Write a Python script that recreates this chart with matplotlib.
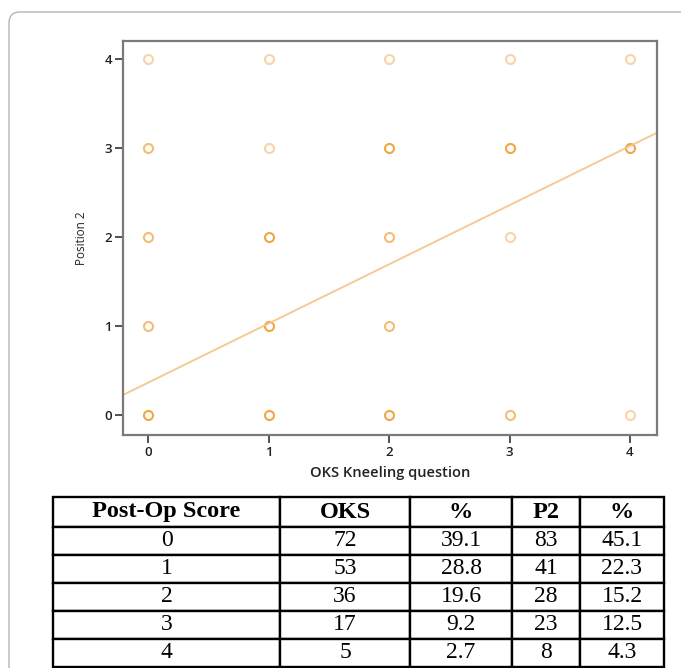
import matplotlib
matplotlib.use("Agg")
import matplotlib.pyplot as plt
from matplotlib.patches import FancyBboxPatch

# scatter points (OKS kneeling score, Position 2 score) and a rough darkness level per point
pts_x = [0, 1, 2, 3, 4,  0, 1, 2, 3, 4,  0, 1, 2, 3,  0, 1, 2,  0, 1, 2, 3, 4]
pts_y = [4, 4, 4, 4, 4,  3, 3, 3, 3, 3,  2, 2, 2, 2,  1, 1, 1,  0, 0, 0, 0, 0]
shade = [1, 1, 1, 1, 1,  2, 1, 3, 3, 3,  2, 3, 2, 1,  2, 3, 2,  3, 3, 3, 2, 1]

# fit line
fit_intercept = 0.364
fit_slope = 0.664

x_ticks = [0, 1, 2, 3, 4]
y_ticks = [0, 1, 2, 3, 4]

# table
col_labels = ["Post-Op Score", "OKS", "%", "P2", "%"]
scores = ["0", "1", "2", "3", "4"]
oks_n = ["72", "53", "36", "17", "5"]
oks_pct = ["39.1", "28.8", "19.6", "9.2", "2.7"]
p2_n = ["83", "41", "28", "23", "8"]
p2_pct = ["45.1", "22.3", "15.2", "12.5", "4.3"]

W, H = 681, 668
fig = plt.figure(figsize=(W / 100, H / 100), dpi=100)

# rounded card border, kept behind the axes
card = FancyBboxPatch((9 / W, -0.05), 1.05, 1 - 12 / H + 0.05,
                      boxstyle="round,pad=0,rounding_size=0.016",
                      transform=fig.transFigure, facecolor="white",
                      edgecolor="#b5b5b5", linewidth=1.0, zorder=-10)
fig.patches.append(card)

# scatter axes
ax = fig.add_axes([123 / W, 1 - 435 / H, (657 - 123) / W, (435 - 41) / H])
ax.set_xlim(-0.21, 4.225)
ax.set_ylim(-0.225, 4.2)

alpha_map = {1: 0.45, 2: 0.7, 3: 0.95}
for px, py, s in zip(pts_x, pts_y, shade):
    ax.plot(px, py, "o", markersize=6.5, markerfacecolor="none",
            markeredgecolor="#f0a23a", markeredgewidth=1.5, alpha=alpha_map[s])

lx = [-0.21, 4.225]
ly = [fit_intercept + fit_slope * v for v in lx]
ax.plot(lx, ly, color="#f6c48a", linewidth=1.4, alpha=0.9)

for sp in ax.spines.values():
    sp.set_color("#7a7a7a")
    sp.set_linewidth(1.6)
ax.set_xticks(x_ticks)
ax.set_yticks(y_ticks)
ax.tick_params(direction="out", length=6, width=1.3, color="#444444",
               labelsize=9.5, labelcolor="#222222", pad=2)
for lab in ax.get_xticklabels() + ax.get_yticklabels():
    lab.set_fontfamily("Open Sans")
    lab.set_fontweight("semibold")
ax.set_xlabel("OKS Kneeling question", fontsize=10.5, color="#222222",
              family="Open Sans", fontweight="semibold", labelpad=5)
ax.set_ylabel("Position 2", fontsize=8.5, color="#222222",
              family="Open Sans", labelpad=12)

# table axes: header row a little taller than the body rows
top_px, head_h, row_h = 497, 30, 28
n_rows = len(scores)
bot_px = top_px + head_h + n_rows * row_h
tax = fig.add_axes([53 / W, 1 - bot_px / H, (664 - 53) / W, (bot_px - top_px) / H])
tax.axis("off")
rows = [list(r) for r in zip(scores, oks_n, oks_pct, p2_n, p2_pct)]
widths = [227, 130, 102, 68, 84]
tot = sum(widths)
tbl = tax.table(cellText=rows, colLabels=col_labels, cellLoc="center",
                colWidths=[w / tot for w in widths], bbox=[0, 0, 1, 1])
tbl.auto_set_font_size(False)
total_h = head_h + n_rows * row_h
for (r, c), cell in tbl.get_celld().items():
    cell.set_edgecolor("black")
    cell.set_linewidth(1.7)
    cell.set_height((head_h if r == 0 else row_h) / total_h)
    txt = cell.get_text()
    txt.set_fontfamily("Liberation Serif")
    if r == 0:
        txt.set_fontweight("bold")
        txt.set_fontsize(17.5)
    else:
        txt.set_fontsize(17)

fig.savefig("out.png", dpi=100)
